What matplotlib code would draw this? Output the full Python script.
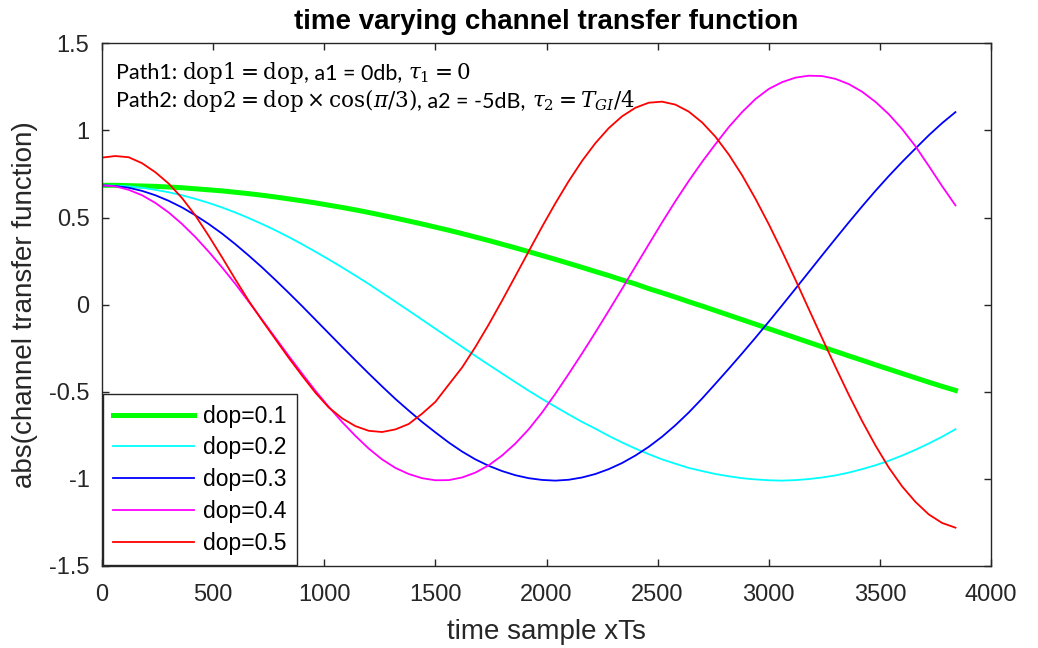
import matplotlib
matplotlib.use("Agg")
import matplotlib.pyplot as plt

# sample index of every stored point (step of 60 samples)
samples = list(range(0, 3841, 60))

dop_01 = [0.685, 0.685, 0.683, 0.681, 0.679, 0.675, 0.671, 0.665, 0.659, 0.653,
          0.645, 0.637, 0.628, 0.618, 0.607, 0.596, 0.584, 0.571, 0.558, 0.544,
          0.529, 0.513, 0.497, 0.480, 0.463, 0.445, 0.427, 0.408, 0.388, 0.368,
          0.347, 0.326, 0.304, 0.282, 0.260, 0.237, 0.214, 0.190, 0.167, 0.142,
          0.119, 0.092, 0.068, 0.043, 0.017, -0.008, -0.034, -0.060, -0.086, -0.112,
          -0.138, -0.164, -0.190, -0.216, -0.242, -0.268, -0.294, -0.319, -0.345, -0.370,
          -0.395, -0.420, -0.445, -0.469, -0.492]
dop_02 = [0.685, 0.683, 0.679, 0.671, 0.659, 0.645, 0.628, 0.607, 0.584, 0.558,
          0.529, 0.497, 0.463, 0.427, 0.388, 0.347, 0.304, 0.260, 0.214, 0.167,
          0.119, 0.068, 0.017, -0.034, -0.086, -0.138, -0.190, -0.242, -0.294, -0.345,
          -0.395, -0.445, -0.494, -0.541, -0.586, -0.630, -0.673, -0.712, -0.753, -0.791,
          -0.826, -0.858, -0.888, -0.913, -0.937, -0.955, -0.972, -0.985, -0.996, -1.003,
          -1.008, -1.010, -1.007, -1.001, -0.992, -0.980, -0.964, -0.944, -0.922, -0.896,
          -0.866, -0.833, -0.797, -0.758, -0.715]
dop_03 = [0.685, 0.681, 0.671, 0.653, 0.628, 0.596, 0.558, 0.513, 0.463, 0.408,
          0.347, 0.282, 0.214, 0.142, 0.068, -0.008, -0.086, -0.164, -0.242, -0.319,
          -0.395, -0.469, -0.541, -0.608, -0.673, -0.733, -0.791, -0.843, -0.888, -0.925,
          -0.955, -0.979, -0.996, -1.006, -1.010, -1.005, -0.992, -0.972, -0.944, -0.909,
          -0.866, -0.816, -0.758, -0.692, -0.619, -0.539, -0.454, -0.368, -0.280, -0.190,
          -0.098, -0.004, 0.091, 0.187, 0.283, 0.378, 0.472, 0.564, 0.653, 0.738,
          0.819, 0.896, 0.972, 1.042, 1.105]
dop_04 = [0.685, 0.679, 0.659, 0.628, 0.584, 0.529, 0.463, 0.388, 0.304, 0.214,
          0.119, 0.017, -0.086, -0.190, -0.294, -0.395, -0.494, -0.586, -0.673, -0.753,
          -0.826, -0.888, -0.937, -0.972, -0.996, -1.008, -1.007, -0.992, -0.964, -0.922,
          -0.866, -0.797, -0.715, -0.619, -0.511, -0.397, -0.280, -0.159, -0.035, 0.091,
          0.219, 0.346, 0.472, 0.594, 0.710, 0.819, 0.921, 1.019, 1.105, 1.180,
          1.238, 1.277, 1.303, 1.314, 1.312, 1.296, 1.266, 1.222, 1.164, 1.093,
          1.008, 0.909, 0.796, 0.680, 0.570]
dop_05 = [0.844, 0.853, 0.846, 0.812, 0.760, 0.695, 0.612, 0.512, 0.395, 0.272,
          0.145, 0.022, -0.090, -0.198, -0.305, -0.407, -0.505, -0.590, -0.652, -0.697,
          -0.724, -0.731, -0.716, -0.685, -0.626, -0.558, -0.459, -0.361, -0.243, -0.114,
          0.023, 0.164, 0.306, 0.447, 0.582, 0.709, 0.825, 0.927, 1.013, 1.081,
          1.130, 1.159, 1.165, 1.148, 1.108, 1.046, 0.964, 0.862, 0.743, 0.608,
          0.462, 0.306, 0.143, -0.025, -0.192, -0.357, -0.517, -0.668, -0.808, -0.935,
          -1.043, -1.132, -1.204, -1.253, -1.280]

labels = ["dop=0.1", "dop=0.2", "dop=0.3", "dop=0.4", "dop=0.5"]
colors = ["#00ff00", "#00ffff", "#0000ff", "#ff00ff", "#ff0000"]
widths = [3.6, 1.3, 1.3, 1.3, 1.3]

# path description: (text, is math, gap after in px)
path1 = [("Path1:", False, 5),
         (r"$\mathrm{dop1}=\mathrm{dop}$", True, 0),
         (", a1 = 0db,", False, 6),
         (r"$\tau_1=0$", True, 0)]
path2 = [("Path2:", False, 5),
         (r"$\mathrm{dop2}=\mathrm{dop}\times\mathrm{cos}(\pi/3)$", True, 0),
         (", a2 = -5dB,", False, 6),
         (r"$\tau_2=T_{GI}/4$", True, 0)]

plt.rcParams["font.family"] = ["Liberation Sans", "DejaVu Sans"]
plt.rcParams["axes.unicode_minus"] = False

W, H = 1038, 648
dark = "#262626"

fig = plt.figure(figsize=(W / 100, H / 100), dpi=100)
ax = fig.add_axes([102 / W, 1 - 566 / H, 889 / W, 522.7 / H])

for y, lab, c, lw in zip([dop_01, dop_02, dop_03, dop_04, dop_05], labels, colors, widths):
    ax.plot(samples, y, color=c, linewidth=lw, label=lab)

ax.set_xlim(0, 4000)
ax.set_ylim(-1.5, 1.5)
ax.set_xticks(range(0, 4001, 500))
ax.set_yticks([-1.5, -1, -0.5, 0, 0.5, 1, 1.5])
ax.set_yticklabels(["-1.5", "-1", "-0.5", "0", "0.5", "1", "1.5"])
ax.tick_params(direction="in", length=5, width=1.0, top=True, right=True,
               labelsize=17, colors=dark)
ax.tick_params(axis="x", pad=13)
ax.tick_params(axis="y", pad=9)
for s in ax.spines.values():
    s.set_color(dark)
    s.set_linewidth(1.0)

ax.set_title("time varying channel transfer function", fontsize=20,
             fontweight="bold", pad=10)
ax.set_xlabel("time sample xTs", fontsize=20, color=dark, labelpad=9)
ax.set_ylabel("abs(channel transfer function)", fontsize=20, color=dark, labelpad=8)

leg = ax.legend(loc="lower left", fontsize=16.5, frameon=True, fancybox=False,
                framealpha=1, edgecolor=dark, borderaxespad=0.05,
                handlelength=3.5, handletextpad=0.4, labelspacing=0.38,
                borderpad=0.45)
leg.get_frame().set_linewidth(1.0)


def put_line(y_px, pieces):
    # lay the pieces one after another on a common baseline
    renderer = fig.canvas.get_renderer()
    x = 116.0
    for s, is_math, gap in pieces:
        if is_math:
            kw = dict(fontsize=15.5, math_fontfamily="dejavuserif")
        else:
            kw = dict(fontsize=15.5, family="Lato")
        t = fig.text(x / W, 1 - y_px / H, s, va="baseline", **kw)
        x += t.get_window_extent(renderer).width + gap


put_line(79, path1)
put_line(107, path2)

fig.savefig("out.png", dpi=100)
